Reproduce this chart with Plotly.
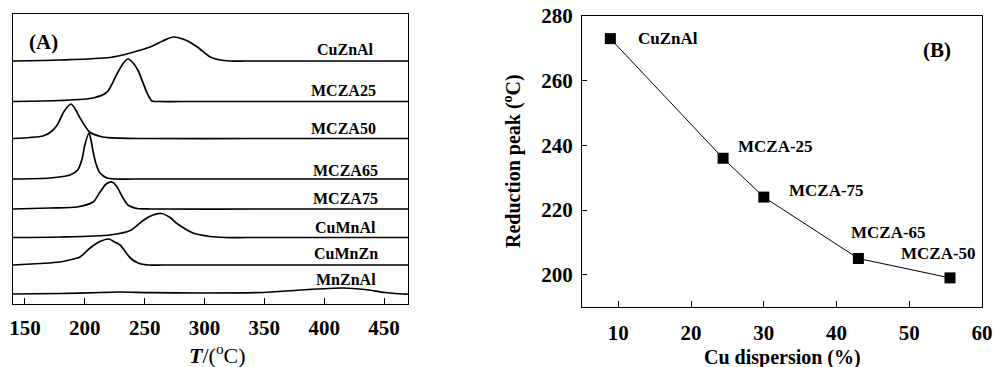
import plotly.graph_objects as go

# ---------------- Panel (A): H2-TPR profiles ----------------
samples = ["CuZnAl", "MCZA25", "MCZA50", "MCZA65", "MCZA75", "CuMnAl", "CuMnZn", "MnZnAl"]

t_cuznal = [140, 179, 221, 238, 254.5, 265, 273.8, 284, 294, 304.7, 313, 321, 335, 400, 470]
h_cuznal = [0, 1, 3.5, 8, 14, 20, 24, 21, 14, 4, 1, 0, 0, 0, 0]

t_mcza25 = [140, 179, 207, 218.6, 227, 232, 236, 240, 244.5, 252, 256, 262, 280, 400, 470]
h_mcza25 = [0, 1, 3.5, 9.5, 28, 38, 42.5, 39, 31, 8.5, 0.5, 0, 0, 0, 0]

t_mcza50 = [140, 154, 165, 171, 177, 182.6, 188.5, 192.7, 196, 204, 215, 229.5, 245, 350, 470]
h_mcza50 = [0, 1, 2.5, 6, 13.5, 27, 34.5, 28, 20.5, 6.5, 1.5, 0.3, 0, 0, 0]

t_mcza65 = [140, 171, 187.7, 194, 197.7, 200, 203.5, 205, 207, 209.4, 212.7, 218.6, 225, 240, 350, 470]
h_mcza65 = [0, 1, 4, 9, 20, 34, 46, 40, 27, 15, 6, 1, 0, 0, 0, 0]

t_mcza75 = [140, 171, 193.5, 207, 212.7, 217.8, 222.8, 227, 231, 236, 243.7, 255, 350, 470]
h_mcza75 = [0, 1, 2, 7, 17, 25, 27, 22, 13, 4, 0.5, 0, 0, 0]

t_cumnal = [140, 179, 221, 238, 248.7, 256, 263.7, 271.2, 277, 290.5, 304.7, 317, 335, 400, 470]
h_cumnal = [0, 0.5, 2.5, 7, 17, 22, 24, 20, 14, 4.5, 1, 0, 0, 0, 0]

t_cumnzn = [140, 162.6, 179, 192, 196, 204.4, 212.7, 220, 225, 229.5, 238, 244.5, 253, 265, 350, 470]
h_cumnzn = [0, 1.5, 3, 6.5, 8, 17, 23.5, 26, 23, 20, 7, 2, 0, 0, 0, 0]

t_mnznal = [140, 179, 213, 229.5, 254.5, 296, 349, 380, 416, 434, 451, 466, 470]
h_mnznal = [0, 0.5, 1.5, 2, 1.3, 1, 1.5, 4, 6, 4.5, 1.5, 0, 0]

temps = [t_cuznal, t_mcza25, t_mcza50, t_mcza65, t_mcza75, t_cumnal, t_cumnzn, t_mnznal]
heights = [h_cuznal, h_mcza25, h_mcza50, h_mcza65, h_mcza75, h_cumnal, h_cumnzn, h_mnznal]

# ---------------- Panel (B): reduction peak vs Cu dispersion ----------------
cu_dispersion = [8.9, 24.4, 30.0, 43.0, 55.6]
reduction_peak = [273, 236, 224, 205, 199]
point_labels = ["CuZnAl", "MCZA-25", "MCZA-75", "MCZA-65", "MCZA-50"]

# ---------------- styling / layout ----------------
W, H = 994, 367
FONT = "Liberation Serif"
offsets = [243, 202.5, 165.5, 125, 95, 66.5, 39, 10]
label_y = [255, 214, 176, 134, 106, 77, 51, 25]
label_dx = [0, -1.5, -1.5, 0, 0, 0, 0, 0]
label_pos_b = [(12.4, 273), (26.2, 239.7), (33.2, 226), (41.7, 213), (48.6, 206.5)]

fig = go.Figure()

for name, t, h, off in zip(samples, temps, heights, offsets):
    fig.add_trace(go.Scatter(
        x=t, y=[v + off for v in h], mode="lines",
        line=dict(color="black", width=1.7, shape="spline", smoothing=0.7),
        xaxis="x", yaxis="y", showlegend=False, name=name))

fig.add_trace(go.Scatter(
    x=cu_dispersion, y=reduction_peak, mode="lines+markers",
    line=dict(color="black", width=1),
    marker=dict(symbol="square", size=11, color="black"),
    xaxis="x2", yaxis="y2", showlegend=False))

def px2px(x):
    return x / W

def py2p(y):
    return 1 - y / H

ax_common = dict(showline=True, linecolor="black", linewidth=1.2, mirror=True,
                 showgrid=False, zeroline=False, automargin=False,
                 tickfont=dict(family=FONT, size=21, color="black", weight="bold"))

fig.update_layout(
    width=W, height=H,
    margin=dict(l=0, r=0, t=0, b=0),
    paper_bgcolor="white", plot_bgcolor="white",
    xaxis=dict(domain=[px2px(13), px2px(408)], range=[140, 470],
               tickvals=[150, 200, 250, 300, 350, 400, 450],
               ticks="inside", ticklen=6, tickcolor="black", tickwidth=1,
               anchor="y", ticklabelstandoff=5, **ax_common),
    yaxis=dict(domain=[py2p(304), py2p(14)], range=[0, 290],
               showticklabels=False, ticks="", anchor="x", **ax_common),
    xaxis2=dict(domain=[px2px(582), px2px(982)], range=[5, 60],
                tickvals=[10, 20, 30, 40, 50, 60],
                ticks="inside", ticklen=6, tickcolor="black", tickwidth=1,
                anchor="y2", ticklabelstandoff=7, **ax_common),
    yaxis2=dict(domain=[py2p(307), py2p(16)], range=[190, 280],
                tickvals=[200, 220, 240, 260, 280],
                ticks="inside", ticklen=5, tickcolor="black", tickwidth=1,
                anchor="x2", ticklabelstandoff=4, **ax_common),
)

ann = []
for name, ly, dx in zip(samples, label_y, label_dx):
    ann.append(dict(x=418 + dx, y=ly, xref="x", yref="y", text=name, showarrow=False,
                    xanchor="center", yanchor="middle",
                    font=dict(family=FONT, size=16, color="black", weight="bold")))
ann.append(dict(x=(43 - 13) / 395, y=(304 - 42) / 290, xref="x domain", yref="y domain",
                text="(A)", showarrow=False, xanchor="center", yanchor="middle",
                font=dict(family=FONT, size=21, color="black", weight="bold")))
for (lx, ly), name in zip(label_pos_b, point_labels):
    ann.append(dict(x=lx, y=ly, xref="x2", yref="y2", text=name, showarrow=False,
                    xanchor="left", yanchor="middle",
                    font=dict(family=FONT, size=17, color="black", weight="bold")))
ann.append(dict(x=53.8, y=269.5, xref="x2", yref="y2", text="(B)", showarrow=False,
                xanchor="center", yanchor="middle",
                font=dict(family=FONT, size=21, color="black", weight="bold")))
# axis titles
ann.append(dict(x=px2px(217), y=py2p(354), xref="paper", yref="paper",
                text="<b><i>T</i></b>/(<sup>o</sup>C)", showarrow=False,
                xanchor="center", yanchor="middle",
                font=dict(family=FONT, size=22, color="black")))
ann.append(dict(x=px2px(782), y=py2p(357), xref="paper", yref="paper",
                text="Cu dispersion (%)", showarrow=False,
                xanchor="center", yanchor="middle",
                font=dict(family=FONT, size=20, color="black", weight="bold")))
ann.append(dict(x=px2px(513), y=py2p(161), xref="paper", yref="paper",
                text="Reduction peak (<sup>o</sup>C)", showarrow=False, textangle=-90,
                xanchor="center", yanchor="middle",
                font=dict(family=FONT, size=20, color="black", weight="bold")))
fig.update_layout(annotations=ann)

fig.write_html("out.html", config={"displayModeBar": False},
               post_script="document.body.style.margin='0px';document.body.style.overflow='hidden';")
